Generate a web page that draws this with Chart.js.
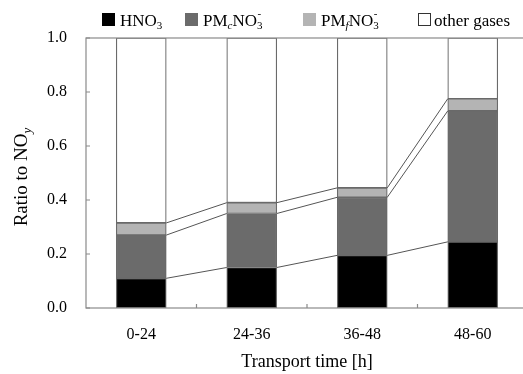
<!DOCTYPE html>
<html>
<head>
<meta charset="utf-8">
<script src="https://cdn.jsdelivr.net/npm/chart.js@4.4.1/dist/chart.umd.min.js"></script>
<style>
  html, body { margin: 0; padding: 0; overflow: hidden; background: #fff; }
  canvas { display: block; }
</style>
</head>
<body>
<canvas id="c" width="530" height="374"></canvas>
<script>
// Transport time bins and NOy partition ratios (stacked, bottom to top)
const categories = ['0-24', '24-36', '36-48', '48-60'];
const hno3       = [0.11, 0.15, 0.195, 0.245];
const pmcNO3     = [0.16, 0.20, 0.215, 0.485];
const pmfNO3     = [0.045, 0.04, 0.035, 0.045];
const otherGases = [0.685, 0.61, 0.555, 0.225];
const yTicks     = [0.0, 0.2, 0.4, 0.6, 0.8, 1.0];

const SERIF = '"Liberation Serif", "Times New Roman", serif';
const EDGE = '#6a6a6a';
const COLORS = { hno3: '#000000', pmc: '#6b6b6b', pmf: '#b4b4b4', other: '#ffffff' };

// Draws a run of text pieces, each with its own size, baseline shift and style
function drawRich(ctx, x, y, parts) {
  let cx = x;
  for (const p of parts) {
    ctx.font = (p.italic ? 'italic ' : '') + p.size + 'px ' + SERIF;
    ctx.fillText(p.t, cx, y + (p.dy || 0));
    cx += ctx.measureText(p.t).width + (p.gap || 0);
  }
  return cx - x;
}
function richWidth(ctx, parts) {
  let w = 0;
  for (const p of parts) {
    ctx.font = (p.italic ? 'italic ' : '') + p.size + 'px ' + SERIF;
    w += ctx.measureText(p.t).width + (p.gap || 0);
  }
  return w;
}

const decorations = {
  id: 'decorations',
  afterDatasetsDraw(chart) {
    const ctx = chart.ctx;
    const area = chart.chartArea;
    const xs = chart.scales.x, ys = chart.scales.y;
    ctx.save();

    // connector lines between the tops of the lower three segments
    ctx.strokeStyle = '#555';
    ctx.lineWidth = 1;
    for (let d = 0; d < 3; d++) {
      const bars = chart.getDatasetMeta(d).data;
      for (let i = 0; i < bars.length - 1; i++) {
        const a = bars[i], b = bars[i + 1];
        ctx.beginPath();
        ctx.moveTo(a.x + a.width / 2, a.y);
        ctx.lineTo(b.x - b.width / 2, b.y);
        ctx.stroke();
      }
    }

    // plot frame
    ctx.strokeStyle = '#8a8a8a';
    ctx.lineWidth = 1.2;
    ctx.strokeRect(area.left, area.top, area.right - area.left, area.bottom - area.top);

    // inward tick marks on the value axis
    ctx.beginPath();
    for (const v of yTicks) {
      const y = ys.getPixelForValue(v);
      ctx.moveTo(area.left, y);
      ctx.lineTo(area.left + 4, y);
    }
    // inward tick marks between categories
    for (let i = 1; i < categories.length; i++) {
      const x = (xs.getPixelForValue(i - 1) + xs.getPixelForValue(i)) / 2;
      ctx.moveTo(x, area.bottom);
      ctx.lineTo(x, area.bottom - 4);
    }
    ctx.stroke();
    ctx.restore();
  },
  afterDraw(chart) {
    const ctx = chart.ctx;
    const area = chart.chartArea;
    ctx.save();
    ctx.fillStyle = '#000';
    ctx.textBaseline = 'alphabetic';
    ctx.textAlign = 'left';

    // legend
    const base = 26, L = 17, S = 11;
    const items = [
      { x: 102, fill: COLORS.hno3, parts: [{ t: 'HNO', size: L }, { t: '3', size: S, dy: 3 }] },
      { x: 185, fill: COLORS.pmc, parts: [{ t: 'PM', size: L }, { t: 'c', size: S, dy: 3, italic: true }, { t: 'NO', size: L }, { t: '3', size: S, dy: 3, gap: -5 }, { t: '-', size: S, dy: -9 }] },
      { x: 303, fill: COLORS.pmf, parts: [{ t: 'PM', size: L }, { t: 'f', size: S, dy: 3, italic: true }, { t: 'NO', size: L }, { t: '3', size: S, dy: 3, gap: -5 }, { t: '-', size: S, dy: -9 }] },
      { x: 418, fill: COLORS.other, stroke: true, parts: [{ t: 'other gases', size: L }] }
    ];
    for (const it of items) {
      ctx.fillStyle = it.fill;
      ctx.fillRect(it.x, 13, 13, 13);
      if (it.stroke) {
        ctx.strokeStyle = '#333';
        ctx.lineWidth = 1;
        ctx.strokeRect(it.x + 0.5, 13.5, 12, 12);
      }
      ctx.fillStyle = '#000';
      drawRich(ctx, it.x + (it.stroke ? 16 : 18), base, it.parts);
    }

    // value axis title
    const titleParts = [{ t: 'Ratio to NO', size: 19 }, { t: 'y', size: 13, dy: 4, italic: true }];
    const w = richWidth(ctx, titleParts);
    ctx.translate(27, (area.top + area.bottom) / 2 + 4);
    ctx.rotate(-Math.PI / 2);
    drawRich(ctx, -w / 2, 0, titleParts);
    ctx.restore();
  }
};

new Chart(document.getElementById('c'), {
  type: 'bar',
  data: {
    labels: categories,
    datasets: [
      { label: 'HNO3', data: hno3, backgroundColor: COLORS.hno3 },
      { label: 'PMcNO3-', data: pmcNO3, backgroundColor: COLORS.pmc },
      { label: 'PMfNO3-', data: pmfNO3, backgroundColor: COLORS.pmf },
      { label: 'other gases', data: otherGases, backgroundColor: COLORS.other }
    ].map(d => Object.assign(d, { borderColor: EDGE, borderWidth: 1.2, barThickness: 50, borderSkipped: false }))
  },
  options: {
    responsive: false,
    animation: false,
    events: [],
    layout: { padding: { top: 38, right: 2, left: 0, bottom: 0 } },
    plugins: { legend: { display: false }, tooltip: { enabled: false } },
    scales: {
      x: {
        stacked: true,
        grid: { display: false, drawTicks: false },
        border: { display: false },
        ticks: { color: '#000', font: { family: SERIF, size: 16 }, padding: 17, maxRotation: 0 },
        title: { display: true, text: 'Transport time [h]', color: '#000', font: { family: SERIF, size: 18 }, padding: { top: 0, bottom: 1 } },
        afterFit(s) { s.height = 66; }
      },
      y: {
        stacked: true,
        min: 0, max: 1,
        grid: { display: false, drawTicks: false },
        border: { display: false },
        afterBuildTicks(s) { s.ticks = yTicks.map(v => ({ value: v })); },
        ticks: { color: '#000', font: { family: SERIF, size: 16 }, padding: 19, callback: v => v.toFixed(1) },
        afterFit(s) { s.width = 86; }
      }
    }
  },
  plugins: [decorations]
});
</script>
</body>
</html>
